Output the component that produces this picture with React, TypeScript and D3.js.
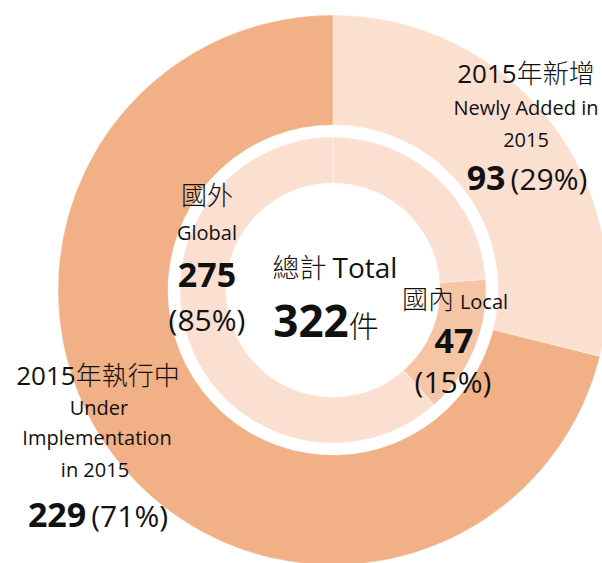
import React, { useMemo } from 'react';
import * as d3 from 'd3';

// outer ring: projects by status
const outerKeys = ['new', 'ongoing'];
const outerValues = [93, 229];

// inner ring: global / local; the global part is drawn in two pieces
const innerKeys = ['國外', '國內'];
const innerValues = [275, 47];
const innerSliceKeys = ['國外', '國內', '國外'];
const innerSliceValues = [77, 47, 198];

const total = 322;

const W = 602;
const H = 563;
const cx = 333;
const cy = 290;

const outerColor = d3.scaleOrdinal<string, string>().domain(outerKeys).range(['#fbe0d0', '#f1b085']);
const innerColor = d3.scaleOrdinal<string, string>().domain(innerKeys).range(['#fbe0d2', '#f5c5a6']);

const LATIN = '"Open Sans", Lato, sans-serif';
const CJK = '"Noto Sans CJK TC", "Noto Sans CJK SC", sans-serif';

const pct = (v: number) => `(${Math.round((v / total) * 100)}%)`;

export default function App() {
  const pie = useMemo(() => d3.pie<number>().sort(null).value(d => d), []);
  const outerArcs = pie(outerValues);
  const innerArcs = pie(innerSliceValues);
  const outerArc = d3.arc<d3.PieArcDatum<number>>().innerRadius(165).outerRadius(275);
  const innerArc = d3.arc<d3.PieArcDatum<number>>().innerRadius(107).outerRadius(153);

  return (
    <svg width={W} height={H} style={{ position: 'absolute', left: 0, top: 0, background: '#fff' }}>
      <g transform={`translate(${cx},${cy})`}>
        {outerArcs.map((a, i) => (
          <path key={`o${i}`} d={outerArc(a) || ''} fill={outerColor(outerKeys[i])}
            stroke="#fff" strokeOpacity={0.35} strokeWidth={1} />
        ))}
        {innerArcs.map((a, i) => (
          <path key={`i${i}`} d={innerArc(a) || ''} fill={innerColor(innerSliceKeys[i])}
            stroke="#fff" strokeOpacity={0.35} strokeWidth={1} />
        ))}
      </g>

      <g fill="#111">
        {/* new in 2015 */}
        <text x={526} y={83} textAnchor="middle" fontSize={26}>
          <tspan fontFamily={LATIN}>2015</tspan><tspan fontFamily={CJK} fontWeight={300}>年新增</tspan>
        </text>
        <text x={526} y={115} textAnchor="middle" fontSize={20} fontFamily={LATIN}>Newly Added in</text>
        <text x={526} y={147} textAnchor="middle" fontSize={20} fontFamily={LATIN}>2015</text>
        <text x={527} y={190} textAnchor="middle" fontFamily={LATIN}>
          <tspan fontSize={34} fontWeight={700}>{outerValues[0]}</tspan>
          <tspan fontSize={30} dx={5}>{pct(outerValues[0])}</tspan>
        </text>

        {/* global */}
        <text x={207} y={205} textAnchor="middle" fontSize={26} fontFamily={CJK} fontWeight={300}>{innerKeys[0]}</text>
        <text x={207} y={240} textAnchor="middle" fontSize={20} fontFamily={LATIN}>Global</text>
        <text x={207} y={287} textAnchor="middle" fontSize={34} fontWeight={700} fontFamily={LATIN}>{innerValues[0]}</text>
        <text x={207} y={331} textAnchor="middle" fontSize={30} fontFamily={LATIN}>{pct(innerValues[0])}</text>

        {/* total */}
        <text x={335} y={278} textAnchor="middle">
          <tspan fontFamily={CJK} fontSize={27} fontWeight={300}>總計</tspan>
          <tspan fontFamily={LATIN} fontSize={28} dx={6}>Total</tspan>
        </text>
        <text x={326} y={337} textAnchor="middle">
          <tspan fontFamily={LATIN} fontSize={44} fontWeight={700}>{total}</tspan>
          <tspan fontFamily={CJK} fontSize={30} fontWeight={300}>件</tspan>
        </text>

        {/* local */}
        <text x={455} y={309} textAnchor="middle">
          <tspan fontFamily={CJK} fontSize={26} fontWeight={300}>{innerKeys[1]}</tspan>
          <tspan fontFamily={LATIN} fontSize={20} dx={6}>Local</tspan>
        </text>
        <text x={454} y={353} textAnchor="middle" fontSize={34} fontWeight={700} fontFamily={LATIN}>{innerValues[1]}</text>
        <text x={453} y={393} textAnchor="middle" fontSize={30} fontFamily={LATIN}>{pct(innerValues[1])}</text>

        {/* ongoing */}
        <text x={98} y={385} textAnchor="middle" fontSize={26}>
          <tspan fontFamily={LATIN}>2015</tspan><tspan fontFamily={CJK} fontWeight={300}>年執行中</tspan>
        </text>
        <text x={99} y={415} textAnchor="middle" fontSize={20} fontFamily={LATIN}>Under</text>
        <text x={97} y={445} textAnchor="middle" fontSize={20} fontFamily={LATIN}>Implementation</text>
        <text x={95} y={477} textAnchor="middle" fontSize={20} fontFamily={LATIN}>in 2015</text>
        <text x={98} y={527} textAnchor="middle" fontFamily={LATIN}>
          <tspan fontSize={34} fontWeight={700}>{outerValues[1]}</tspan>
          <tspan fontSize={30} dx={5}>{pct(outerValues[1])}</tspan>
        </text>
      </g>
    </svg>
  );
}
